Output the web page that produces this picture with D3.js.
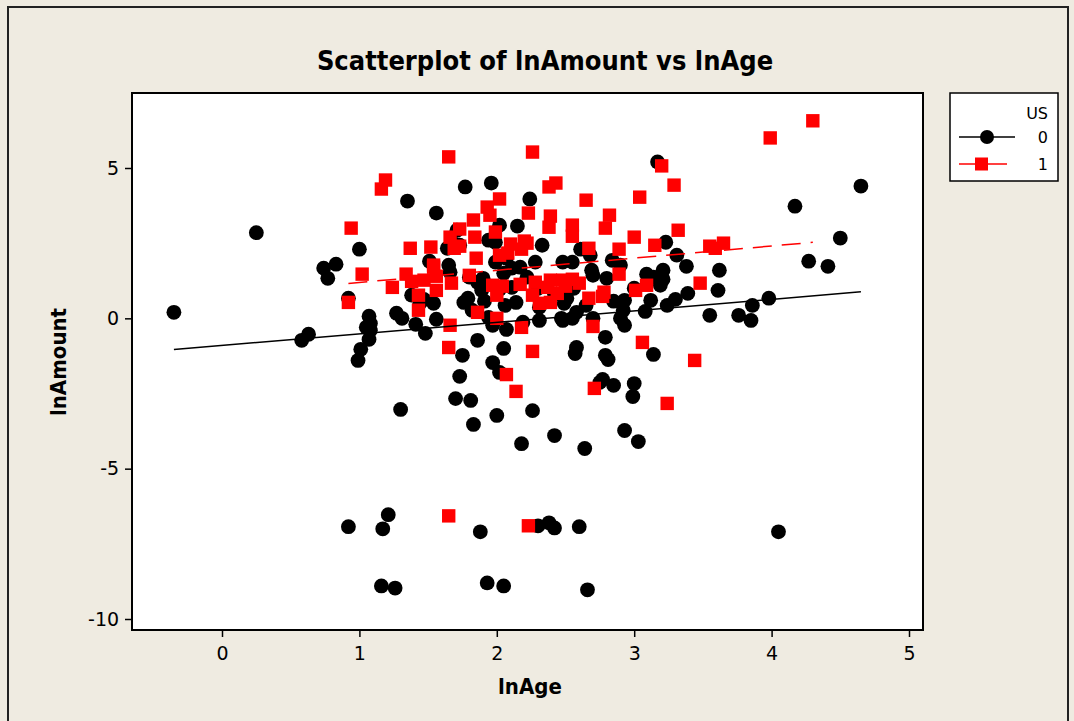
<!DOCTYPE html>
<html>
<head>
<meta charset="utf-8">
<script src="https://cdn.jsdelivr.net/npm/d3@7"></script>
<style>
  body { margin: 0; background: #fff; }
  svg { display: block; }
</style>
</head>
<body>
<div id="chart"></div>
<script>
// chart size
const width = 1074
const height = 721

// data (US = 0 and US = 1)
const lnAge0 = [-0.35, 0.25, 0.58, 0.63, 0.74, 0.77, 0.83, 0.92, 0.92, 1.0, 1.01, 0.99, 1.05, 1.07, 1.07, 1.08,
  1.17, 1.21, 1.16, 1.26, 1.27, 1.30, 1.31, 1.35, 1.41, 1.48, 1.54, 1.56, 1.56, 1.64, 1.66, 1.70, 1.73, 1.73,
  1.75, 1.76, 1.77, 1.79, 1.81, 1.83, 1.86, 1.88, 1.93, 1.96, 1.97, 2.0, 2.02, 2.05, 2.05, 2.24, 2.26, 2.18,
  2.30, 2.38, 2.42, 2.42, 2.60, 2.64, 2.66, 2.57, 2.58, 2.77, 2.75, 2.79, 2.81, 2.85, 2.93, 3.0, 2.99, 3.03,
  3.14, 3.17, 3.23, 3.61, 3.55, 3.62, 3.76, 3.85, 3.86, 3.98, 4.05, 4.17, 4.27, 4.41, 4.50, 4.65, 3.38, 3.39,
  3.30, 3.24, 3.12, 3.09, 3.21, 3.19, 3.08, 2.93, 2.93, 2.90, 2.85, 3.0, 2.84, 2.61, 2.48, 2.68, 2.70, 2.42,
  2.56, 2.65, 2.55, 2.49, 2.31, 2.19, 2.14, 2.11, 2.07, 1.97, 1.94, 1.91, 1.94, 1.99, 2.05, 2.11, 2.22, 2.15,
  2.33, 2.28, 2.30, 2.02, 1.86, 1.80, 1.65, 1.69, 1.71, 1.38, 1.44, 1.47, 1.08, 1.51, 2.06, 1.89,
  2.02, 1.99, 2.07, 2.17, 1.90, 1.82, 2.31, 2.47, 2.55, 2.69, 2.90, 2.80, 3.14, 3.21, 3.31, 2.51, 2.58, 2.92,
  2.48, 2.70, 2.79]
const lnAmount0 = [0.2, 2.85, -0.73, -0.53, 1.67, 1.33, 1.8, 0.67, -6.93, 2.3, -1.03, -1.4, -0.3, 0.07, -0.7, -0.17,
  -7.0, -6.53, -8.9, -8.97, 0.17, -3.03, 0, 3.9, -0.2, -0.5, 0.5, -0.03, 3.5, 2.33, 1.53, -2.67, -1.93, 2.43,
  -1.23, 0.53, 4.37, 0.67, -2.73, -3.53, -0.73, -7.1, -8.8, 4.5, -1.47, -3.23, -1.8, -8.9, -1.0, 3.97, -3.07, -4.17,
  -6.9, -6.8, -6.97, -3.9, -6.93, -4.33, -9.03, -1.17, -0.97, -2.03, -2.13, -1.23, -1.37, -2.23, -3.73, -2.17, -2.6, -4.1,
  -1.2, 5.2, 2.53, 0.93, 0.1, 1.6, 0.1, -0.07, 0.43, 0.67, -7.1, 3.73, 1.9, 1.73, 2.67, 4.4, 1.73, 0.83,
  0.63, 0.43, 0.6, 1.47, 1.3, 1.1, 0.23, 0.6, -0.23, 0, 0.57, 1.0, 1.93, 2.3, 1.87, 2.1, 1.43, 0.8,
  1.0, 0.43, 0, 0.5, 0.37, -0.13, 0.53, 1.03, -0.37, -0.23, 0.03, 0.57, 2.6, 2.53, 1.5, 1.67, 1.37, 3.07,
  2.43, 1.87, 1.0, 0.97, 1.2, 1.37, 1.77, 2.47, 2.93, 0.77, 0.5, 0.63, -0.4, 1.9, 0.43, 0.93,
  3.1, 1.87, 2.0, 1.7, 1.33, 0.27, -0.07, 0, 1.87, 1.6, 1.77, 1.33, 1.37, 1.6, 2.1, 0.67, 0.2, 0.27,
  -0.07, 0, -0.63]

const lnAge1 = [0.94, 0.92, 1.02, 1.16, 1.19, 1.24, 1.34, 1.37, 1.38, 1.43, 1.43, 1.47, 1.52, 1.54, 1.56, 1.56,
  1.65, 1.65, 1.65, 1.66, 1.67, 1.69, 1.73, 1.73, 1.80, 1.83, 1.84, 1.85, 1.86, 1.93, 1.95, 1.97, 1.99, 2.0,
  2.0, 2.02, 2.02, 2.04, 2.07, 2.08, 2.10, 2.14, 2.17, 2.18, 2.18, 2.20, 2.22, 2.23, 2.23, 2.26, 2.26, 2.26,
  2.28, 2.31, 2.37, 2.38, 2.38, 2.39, 2.39, 2.39, 2.43, 2.44, 2.48, 2.50, 2.55, 2.55, 2.55, 2.60, 2.65, 2.67,
  2.67, 2.70, 2.71, 2.77, 2.78, 2.79, 2.82, 2.89, 2.89, 3.0, 3.01, 3.04, 3.06, 3.09, 3.15, 3.20, 3.24, 3.29,
  3.32, 3.44, 3.48, 3.55, 3.59, 3.65, 3.99, 4.30, 1.66, 1.54]
const lnAmount1 = [3.0, 0.53, 1.47, 4.3, 4.6, 1.03, 1.47, 2.33, 1.23, 0.77, 0.27, 1.27, 2.37, 1.77, 0.93, 1.4,
  5.37, -0.97, -6.57, -0.23, 1.17, 2.33, 2.97, 2.4, 1.43, 3.27, 2.7, 2.0, 0.2, 3.7, 3.43, 1.1, 2.87, 0,
  0.77, 3.97, 2.1, 1.07, -1.87, 2.17, 2.47, -2.43, 1.13, -0.3, 2.3, 2.57, 2.5, 3.5, -6.9, 5.53, 0.77, -1.1,
  1.2, 0.5, 1.03, 4.37, 3.03, 3.4, 0.53, 1.27, 4.5, 0.83, 1.27, 1.07, 3.1, 2.73, 1.3, 1.17, 3.93, 2.33,
  0.67, -0.27, -2.33, 0.73, 0.87, 3.0, 3.43, 2.3, 1.47, 2.7, 0.93, 4.03, -0.8, 1.1, 2.43, 5.07, -2.83, 4.43,
  2.93, -1.4, 1.17, 2.4, 2.33, 2.5, 6.0, 6.57, 2.7, 1.7]

// fitted regression lines (US = 0, US = 1)
const fitIntercept = [-0.90, 0.79]
const fitSlope = [0.383, 0.404]

// axis ticks
const xTicks = [0, 1, 2, 3, 4, 5]
const yTicks = [-10, -5, 0, 5]
const groups = ["0", "1"]

// plot frame
const plot = { left: 132, top: 93, right: 923, bottom: 630 }

const svg = d3.select("#chart").append("svg")
  .attr("width", width)
  .attr("height", height)

// background and outer frame
svg.append("rect").attr("width", width).attr("height", height).attr("fill", "#efebe1")
svg.append("rect")
  .attr("x", 8).attr("y", 7).attr("width", 1060).attr("height", 730)
  .attr("fill", "none").attr("stroke", "#222").attr("stroke-width", 2)

const x = d3.scaleLinear().domain([0, 5]).range([222, 909])
const y = d3.scaleLinear().domain([-10, 5]).range([619, 168])

svg.append("rect")
  .attr("x", plot.left).attr("y", plot.top)
  .attr("width", plot.right - plot.left).attr("height", plot.bottom - plot.top)
  .attr("fill", "#fff")

const pts0 = lnAge0.map((v, i) => [v, lnAmount0[i]])
const pts1 = lnAge1.map((v, i) => [v, lnAmount1[i]])

const g = svg.append("g")

g.selectAll("circle.us0")
  .data(pts0)
  .enter()
  .append("circle")
  .attr("class", "us0")
  .attr("cx", d => x(d[0]))
  .attr("cy", d => y(d[1]))
  .attr("r", 7.4)
  .attr("fill", "#000")

g.selectAll("rect.us1")
  .data(pts1)
  .enter()
  .append("rect")
  .attr("class", "us1")
  .attr("x", d => x(d[0]) - 6.7)
  .attr("y", d => y(d[1]) - 6.7)
  .attr("width", 13.4)
  .attr("height", 13.4)
  .attr("fill", "#ff0000")

// fitted lines, over each group's lnAge range
const ranges = [d3.extent(lnAge0), d3.extent(lnAge1)]
g.selectAll("line.fit")
  .data(groups)
  .enter()
  .append("line")
  .attr("class", "fit")
  .attr("x1", (d, i) => x(ranges[i][0]))
  .attr("y1", (d, i) => y(fitIntercept[i] + fitSlope[i] * ranges[i][0]))
  .attr("x2", (d, i) => x(ranges[i][1]))
  .attr("y2", (d, i) => y(fitIntercept[i] + fitSlope[i] * ranges[i][1]))
  .attr("stroke", (d, i) => i ? "#ff0000" : "#000")
  .attr("stroke-width", 1.5)
  .attr("stroke-dasharray", (d, i) => i ? "19,10" : null)

// frame on top
svg.append("rect")
  .attr("x", plot.left).attr("y", plot.top)
  .attr("width", plot.right - plot.left).attr("height", plot.bottom - plot.top)
  .attr("fill", "none").attr("stroke", "#000").attr("stroke-width", 2)

// axes
const xAxis = svg.append("g")
  .attr("transform", `translate(0,${plot.bottom})`)
  .call(d3.axisBottom(x).tickValues(xTicks).tickSize(7).tickFormat(d3.format("d")))
const yAxis = svg.append("g")
  .attr("transform", `translate(${plot.left},0)`)
  .call(d3.axisLeft(y).tickValues(yTicks).tickSize(7).tickFormat(d => d < 0 ? "-" + Math.abs(d) : d))

;[xAxis, yAxis].forEach(a => {
  a.select(".domain").remove()
  a.selectAll("line").attr("stroke", "#000").attr("stroke-width", 1.5)
  a.selectAll("text")
    .attr("fill", "#000")
    .attr("font-family", "DejaVu Sans, Verdana, sans-serif")
    .attr("font-size", "19px")
})
xAxis.selectAll("text").attr("dy", "1.05em")
yAxis.selectAll("text").attr("dx", "-0.15em")

// titles
svg.append("text")
  .attr("x", 545).attr("y", 70)
  .attr("text-anchor", "middle")
  .attr("font-family", "DejaVu Sans Condensed, DejaVu Sans, sans-serif")
  .attr("font-weight", "bold")
  .attr("font-size", "27px")
  .text("Scatterplot of lnAmount vs lnAge")

svg.append("text")
  .attr("x", 530).attr("y", 694)
  .attr("text-anchor", "middle")
  .attr("font-family", "DejaVu Sans Condensed, DejaVu Sans, sans-serif")
  .attr("font-weight", "bold")
  .attr("font-size", "22px")
  .text("lnAge")

svg.append("text")
  .attr("transform", "translate(66,362) rotate(-90)")
  .attr("text-anchor", "middle")
  .attr("font-family", "DejaVu Sans Condensed, DejaVu Sans, sans-serif")
  .attr("font-weight", "bold")
  .attr("font-size", "22px")
  .text("lnAmount")

// legend
const legend = svg.append("g").attr("transform", "translate(950,93)")
legend.append("rect")
  .attr("width", 108).attr("height", 88)
  .attr("fill", "#fff").attr("stroke", "#000").attr("stroke-width", 1.5)
legend.append("text")
  .attr("x", 98).attr("y", 26)
  .attr("text-anchor", "end")
  .attr("font-family", "DejaVu Sans, Verdana, sans-serif")
  .attr("font-size", "16px")
  .text("US")

const item = legend.selectAll("g.item")
  .data(groups)
  .enter()
  .append("g")
  .attr("class", "item")
  .attr("transform", (d, i) => `translate(0,${44 + i * 27})`)

item.append("line")
  .attr("x1", 9).attr("x2", (d, i) => i ? 57 : 65)
  .attr("stroke", (d, i) => i ? "#ff0000" : "#000")
  .attr("stroke-width", 1.5)
item.append("text")
  .attr("x", 98).attr("y", 6)
  .attr("text-anchor", "end")
  .attr("font-family", "DejaVu Sans, Verdana, sans-serif")
  .attr("font-size", "16px")
  .text(d => d)
item.filter((d, i) => i === 0).append("circle")
  .attr("cx", 37).attr("r", 7).attr("fill", "#000")
item.filter((d, i) => i === 1).append("rect")
  .attr("x", 25).attr("y", -6.5).attr("width", 13).attr("height", 13).attr("fill", "#ff0000")
</script>
</body>
</html>
